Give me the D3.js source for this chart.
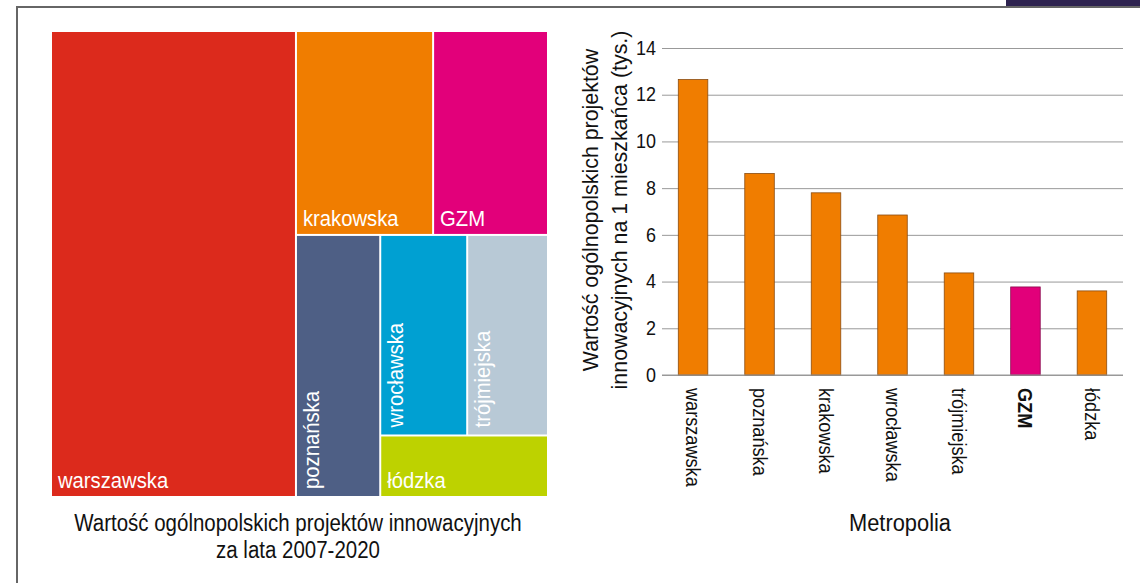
<!DOCTYPE html>
<html>
<head>
<meta charset="utf-8">
<script src="https://cdn.jsdelivr.net/npm/d3@7"></script>
<style>
  body { margin: 0; background: #fff; }
  svg { display: block; font-family: "Liberation Sans", Arial, sans-serif; }
</style>
</head>
<body>
<div id="chart"></div>
<script>
// metropolie, in the order of the bar chart
const metros = ["warszawska", "poznańska", "krakowska", "wrocławska", "trójmiejska", "GZM", "łódzka"]
// value per inhabitant (thousand zł)
const perCapita = [12.65, 8.63, 7.8, 6.85, 4.37, 3.77, 3.6]
// total value of projects 2007-2020 (estimated from the treemap areas)
const totalValue = [11060, 2140, 2710, 1690, 1570, 2270, 1000]
const yTicks = [0, 2, 4, 6, 8, 10, 12, 14]

const treeColors = {
  "warszawska": "#dc2a1c",
  "krakowska": "#f07d00",
  "GZM": "#e2007a",
  "poznańska": "#4e5f85",
  "wrocławska": "#00a0d2",
  "trójmiejska": "#b8c9d6",
  "łódzka": "#bdd200"
}
const rotated = ["poznańska", "wrocławska", "trójmiejska"]

const width = 1140
const height = 583

// the original uses a slightly condensed face, so squeeze text horizontally
function condense(sel, k) {
  sel.each(function() {
    const len = this.getComputedTextLength()
    d3.select(this).attr("textLength", len * k).attr("lengthAdjust", "spacingAndGlyphs")
  })
}

const svg = d3.select("#chart").append("svg")
  .attr("width", width)
  .attr("height", height)

// frame
svg.append("rect").attr("x", 1006).attr("y", 0).attr("width", 134).attr("height", 6).attr("fill", "#2e2350")
svg.append("path").attr("d", "M17,583V7H1140").attr("fill", "none").attr("stroke", "#666").attr("stroke-width", 2)

// ---- treemap ----
const val = name => totalValue[metros.indexOf(name)]
const leaf = name => ({ name: name, value: val(name) })
const tree = {
  name: "root",
  children: [
    leaf("warszawska"),
    { name: "rest", children: [
      { name: "top", children: [leaf("krakowska"), leaf("GZM")] },
      { name: "bottom", children: [
        leaf("poznańska"),
        { name: "right", children: [
          { name: "mid", children: [leaf("wrocławska"), leaf("trójmiejska")] },
          leaf("łódzka")
        ] }
      ] }
    ] }
  ]
}

const root = d3.hierarchy(tree).sum(d => d.value || 0)
d3.treemap()
  .tile(d3.treemapSliceDice)
  .size([495, 464])
  .paddingInner(2)(root)

const tm = svg.append("g").attr("transform", "translate(52 32)")
const cells = tm.selectAll("g").data(root.leaves()).join("g")

cells.append("rect")
  .attr("x", d => d.x0)
  .attr("y", d => d.y0)
  .attr("width", d => d.x1 - d.x0)
  .attr("height", d => d.y1 - d.y0)
  .attr("fill", d => treeColors[d.data.name])

cells.append("text")
  .attr("transform", d => rotated.includes(d.data.name)
    ? `translate(${d.x0 + 22} ${d.y1 - 7}) rotate(-90)`
    : `translate(${d.x0 + 6} ${d.y1 - 8})`)
  .attr("fill", "#fff")
  .attr("font-size", 22)
  .text(d => d.data.name)
  .call(condense, 0.92)

const caption = svg.append("text")
  .attr("text-anchor", "middle")
  .attr("font-size", 23)
  .attr("fill", "#111")
caption.append("tspan").attr("x", 298).attr("y", 531).text("Wartość ogólnopolskich projektów innowacyjnych")
caption.append("tspan").attr("x", 298).attr("y", 558).text("za lata 2007-2020")
caption.selectAll("tspan").call(condense, 0.89)

// ---- bar chart ----
const x = d3.scaleBand()
  .domain(metros)
  .range([662, 1123])
  .paddingInner(0.556)
  .paddingOuter(0.245)

const y = d3.scaleLinear()
  .domain([0, 14])
  .range([375, 48])

const yAxis = d3.axisLeft(y)
  .tickValues(yTicks)
  .tickSize(-(1123 - 662))
  .tickPadding(6)

svg.append("g")
  .attr("transform", "translate(662 0)")
  .call(yAxis)
  .call(g => g.select(".domain").remove())
  .call(g => g.selectAll(".tick line").attr("stroke", "#999"))
  .call(g => g.selectAll(".tick text").attr("font-size", 19.5).attr("fill", "#111").attr("font-family", null).call(condense, 0.92))

svg.append("g").selectAll("rect")
  .data(metros)
  .join("rect")
  .attr("x", d => x(d))
  .attr("width", x.bandwidth())
  .attr("y", (d, i) => y(perCapita[i]))
  .attr("height", (d, i) => y(0) - y(perCapita[i]))
  .attr("fill", d => d === "GZM" ? "#e2007a" : "#f07d00")
  .attr("stroke", d => d === "GZM" ? "#8a0b4e" : "#8a4d12")
  .attr("stroke-width", 0.8)

// redraw zero line over the bars
svg.append("line")
  .attr("x1", 662).attr("x2", 1123)
  .attr("y1", y(0)).attr("y2", y(0))
  .attr("stroke", "#999")

// category labels, rotated to read downwards
svg.append("g").selectAll("text")
  .data(metros)
  .join("text")
  .attr("transform", d => `translate(${x(d) + x.bandwidth() / 2 - 7} 388) rotate(90)`)
  .attr("font-size", 19.5)
  .attr("font-weight", d => d === "GZM" ? "bold" : "normal")
  .attr("fill", "#111")
  .text(d => d)
  .call(condense, 0.93)

// y axis title, two lines
const yTitle = svg.append("text")
  .attr("transform", "translate(0 210) rotate(-90)")
  .attr("text-anchor", "middle")
  .attr("font-size", 22.5)
  .attr("fill", "#111")
yTitle.append("tspan").attr("x", 0).attr("y", 598).text("Wartość ogólnopolskich projektów")
yTitle.append("tspan").attr("x", 0).attr("y", 627).text("innowacyjnych na 1 mieszkańca (tys.)")
yTitle.selectAll("tspan").call(condense, 0.95)

svg.append("text")
  .attr("x", 900)
  .attr("y", 531)
  .attr("text-anchor", "middle")
  .attr("font-size", 23)
  .attr("fill", "#111")
  .text("Metropolia")
  .call(condense, 0.95)
</script>
</body>
</html>
